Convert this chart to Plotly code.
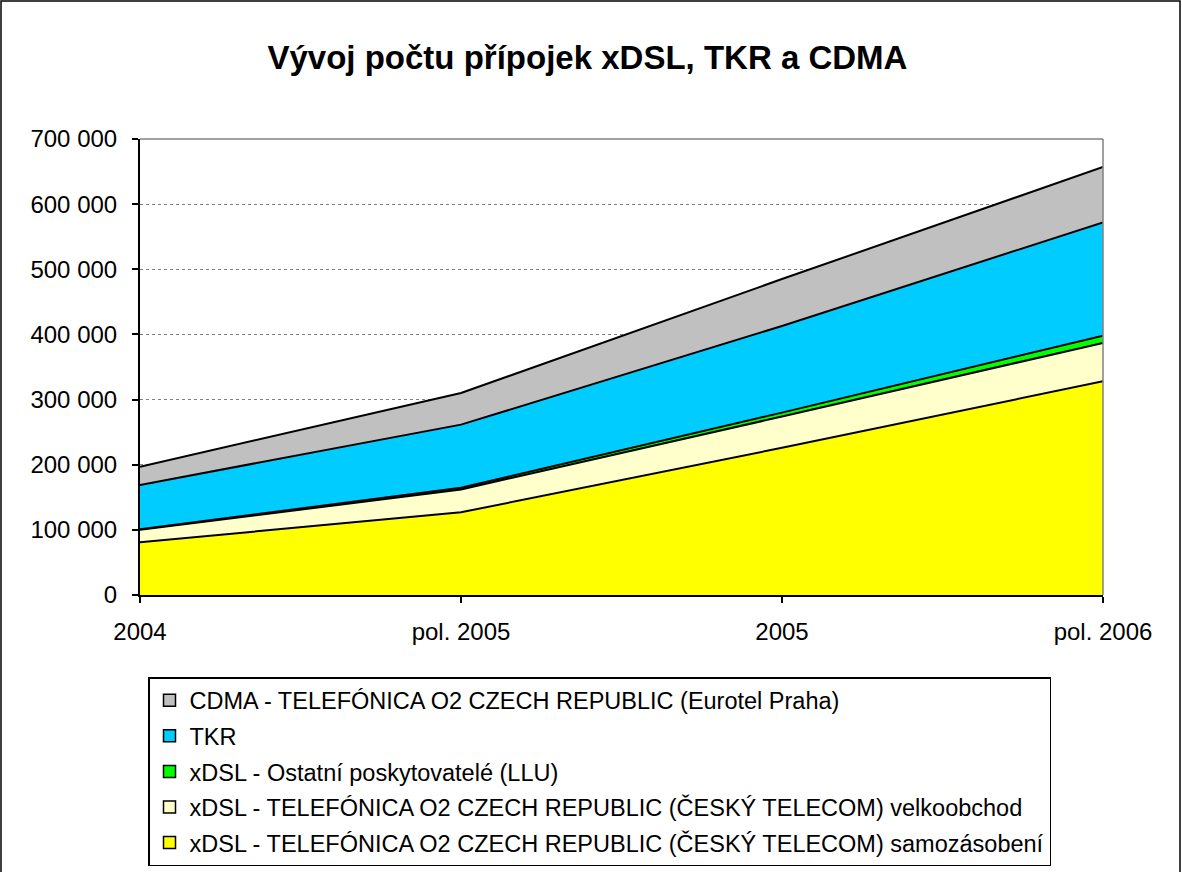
import plotly.graph_objects as go

periods = ["2004", "pol. 2005", "2005", "pol. 2006"]

xdsl_self = [81000, 127000, 226000, 328000]
xdsl_wholesale = [19000, 35000, 48000, 59000]
xdsl_llu = [1000, 2500, 6000, 11000]
tkr = [68000, 97000, 133000, 174000]
cdma = [28000, 48500, 72000, 85000]

series = [
    ("xDSL - TELEFÓNICA O2 CZECH REPUBLIC (ČESKÝ TELECOM) samozásobení", xdsl_self, "#ffff00"),
    ("xDSL - TELEFÓNICA O2 CZECH REPUBLIC (ČESKÝ TELECOM) velkoobchod", xdsl_wholesale, "#ffffcc"),
    ("xDSL - Ostatní poskytovatelé (LLU)", xdsl_llu, "#00ff00"),
    ("TKR", tkr, "#00ccff"),
    ("CDMA - TELEFÓNICA O2 CZECH REPUBLIC (Eurotel Praha)", cdma, "#c0c0c0"),
]

W, H = 1182, 872
L, R, T, B = 140, 79, 139, 277
pw, ph = W - L - R, H - T - B

fig = go.Figure()
for i, (name, vals, col) in enumerate(series):
    fig.add_trace(go.Scatter(
        x=periods, y=vals, name=name, mode="lines",
        stackgroup="one", fillcolor=col,
        line=dict(color="black", width=2),
        showlegend=False,
    ))
    # small square legend key, as in the original
    fig.add_trace(go.Scatter(
        x=[None], y=[None], name=name, mode="markers",
        marker=dict(symbol="square", size=12, color=col,
                    line=dict(color="black", width=1.5)),
        legendgroup=str(i), legendrank=len(series) - i,
    ))

fig.update_layout(
    width=W, height=H,
    margin=dict(l=L, r=R, t=T, b=B, autoexpand=False),
    paper_bgcolor="white", plot_bgcolor="white",
    font=dict(family="Liberation Sans, Arial", size=24, color="black"),
    separators=", ",
    title=dict(text="<b>Vývoj počtu přípojek xDSL, TKR a CDMA</b>",
               x=0.497, xanchor="center", y=1 - 57 / H, yanchor="middle",
               font=dict(size=33)),
    showlegend=True,
    legend=dict(
        traceorder="grouped", tracegroupgap=2, itemwidth=30,
        x=8 / pw, xanchor="left", y=-(677 - 595) / ph, yanchor="top",
        bordercolor="black", borderwidth=1.5, bgcolor="white",
        font=dict(size=23.5),
    ),
    hovermode=False,
)

fig.update_xaxes(
    type="category", range=[0, 3],
    showline=True, linecolor="black", linewidth=2,
    ticks="outside", ticklen=6, tickcolor="black", tickwidth=1.5,
    showgrid=False, tickfont=dict(size=24), ticklabelstandoff=8,
)
fig.update_yaxes(
    range=[0, 700000], dtick=100000, tickformat=",d",
    showline=True, linecolor="black", linewidth=2,
    ticks="outside", ticklen=6, tickcolor="black", tickwidth=1.5,
    showgrid=True, gridcolor="#808080", griddash="dot", gridwidth=1,
    zeroline=False, tickfont=dict(size=24), ticklabelstandoff=10,
)

# plot area top and right edges
fig.add_shape(type="line", xref="paper", yref="paper", x0=0, x1=1, y0=1, y1=1,
              line=dict(color="#808080", width=1.5))
fig.add_shape(type="line", xref="paper", yref="paper", x0=1, x1=1, y0=0, y1=1,
              line=dict(color="#808080", width=1.5))
# chart border
fig.add_shape(type="rect", xref="paper", yref="paper",
              x0=-(L - 1) / pw, x1=(W - L - 2) / pw,
              y0=-(B + 5) / ph, y1=1 + (T - 1) / ph,
              line=dict(color="black", width=1.5))

fig.write_html("out.html", config={"displayModeBar": False},
               post_script="document.body.style.margin='0';")
